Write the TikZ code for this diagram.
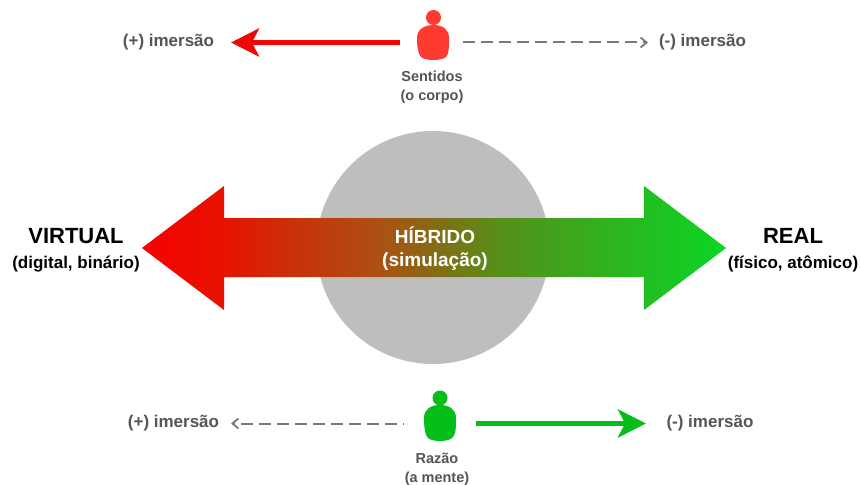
\documentclass[tikz,border=0pt]{standalone}
\usepackage{fontspec}
\setmainfont{Liberation Sans}
\usetikzlibrary{arrows.meta}
\definecolor{txtgray}{RGB}{85,85,85}
\definecolor{dashgray}{RGB}{120,120,120}
\definecolor{discgray}{RGB}{190,190,190}
\definecolor{personred}{RGB}{255,58,48}
\definecolor{arrowred}{RGB}{240,6,6}
\definecolor{arrowgreen}{RGB}{5,190,25}
\newcommand{\polefont}{\fontsize{22}{24}\selectfont}
\pgfdeclarehorizontalshading{bigarrow}{100bp}{
  rgb(0bp)=(0.97,0.00,0.00);
  rgb(25bp)=(0.97,0.00,0.00);
  rgb(32.5bp)=(0.90,0.08,0.00);
  rgb(38.5bp)=(0.78,0.20,0.04);
  rgb(45.5bp)=(0.67,0.32,0.08);
  rgb(50bp)=(0.52,0.42,0.08);
  rgb(55.5bp)=(0.34,0.56,0.10);
  rgb(67.5bp)=(0.14,0.74,0.13);
  rgb(75bp)=(0.04,0.84,0.14);
  rgb(100bp)=(0.04,0.84,0.14)}
\tikzset{
  x=1pt,y=-1pt,
  side/.style={font=\bfseries\fontsize{17}{19}\selectfont,text=txtgray,inner sep=0pt,align=center},
  caption/.style={font=\bfseries\fontsize{14.5}{19}\selectfont,text=txtgray,inner sep=0pt,align=center},
  pole/.style={font=\bfseries\fontsize{17}{25}\selectfont,text=black,inner sep=0pt,align=center},
  centerlabel/.style={font=\bfseries\fontsize{19}{23.5}\selectfont,text=white,inner sep=0pt,align=center},
  solidarrow/.style={line width=4.5pt,-{Stealth[length=28pt,width=28pt,inset=7pt]}},
  dasharrow/.style={draw=dashgray,line width=2pt,-{Straight Barb[length=6pt,width=10pt,line width=1.8pt]}},
}
\begin{document}
\begin{tikzpicture}
\useasboundingbox (0,0) rectangle (861,484);
\fill[white] (0,0) rectangle (861,484);
% disc
\fill[discgray] (433,247.5) circle[radius=116.5];
% big double arrow
\shade[shading=bigarrow] (142,248) -- (224,186) -- (224,218) -- (644,218) -- (644,186)
  -- (726,248) -- (644,310) -- (644,277) -- (224,277) -- (224,310) -- cycle;
\node[centerlabel] (hibrido) at (435,248.5) {HÍBRIDO\\(simulação)};
\node[pole] (virtual) at (76,250.5) {{\polefont VIRTUAL}\\(digital, binário)};
\node[pole] (real) at (793,250.5) {{\polefont REAL}\\(físico, atômico)};
% top person
\fill[personred] (433.5,17.5) circle[radius=7.5];
\fill[personred] (433.5,25) .. controls (442,25) and (449,29) .. (449,38)
  .. controls (449,47) and (449,54) .. (446,57) .. controls (442,61) and (425,61) .. (421,57)
  .. controls (418,54) and (417,46) .. (417,38) .. controls (417,29) and (425,25) .. (433.5,25) -- cycle;
\node[caption] (sentidos) at (432,87) {Sentidos\\(o corpo)};
\node[side] (topplus) at (168.5,42) {(+) imersão};
\node[side] (topminus) at (702.5,42) {(-) imersão};
\coordinate (toprleft) at (400,42.5);
\coordinate (toprtip) at (231,42.5);
\coordinate (topdstart) at (463,42.5);
\coordinate (topdtip) at (648,42.5);
\draw[solidarrow,draw=arrowred] (toprleft) -- (toprtip);
\draw[dasharrow,dash pattern=on 12pt off 6pt] (topdstart) -- (topdtip);
% bottom person
\fill[arrowgreen] (440,398) circle[radius=7.5];
\fill[arrowgreen] (440,405) .. controls (449,405) and (456,409) .. (456,418)
  .. controls (456,427) and (456,435) .. (452,438) .. controls (448,442) and (432,442) .. (428,438)
  .. controls (425,435) and (424,427) .. (424,418) .. controls (424,409) and (431,405) .. (440,405) -- cycle;
\node[caption] (razao) at (437,469) {Razão\\(a mente)};
\node[side] (botplus) at (173.5,423) {(+) imersão};
\node[side] (botminus) at (710,423) {(-) imersão};
\coordinate (botgstart) at (476,423.5);
\coordinate (botgtip) at (646,423.5);
\coordinate (botdstart) at (404,423.5);
\coordinate (botdtip) at (231,423.5);
\draw[solidarrow,draw=arrowgreen] (botgstart) -- (botgtip);
\draw[dasharrow,dash pattern=on 12pt off 6pt,dash phase=11pt] (botdstart) -- (botdtip);
\end{tikzpicture}
\end{document}
